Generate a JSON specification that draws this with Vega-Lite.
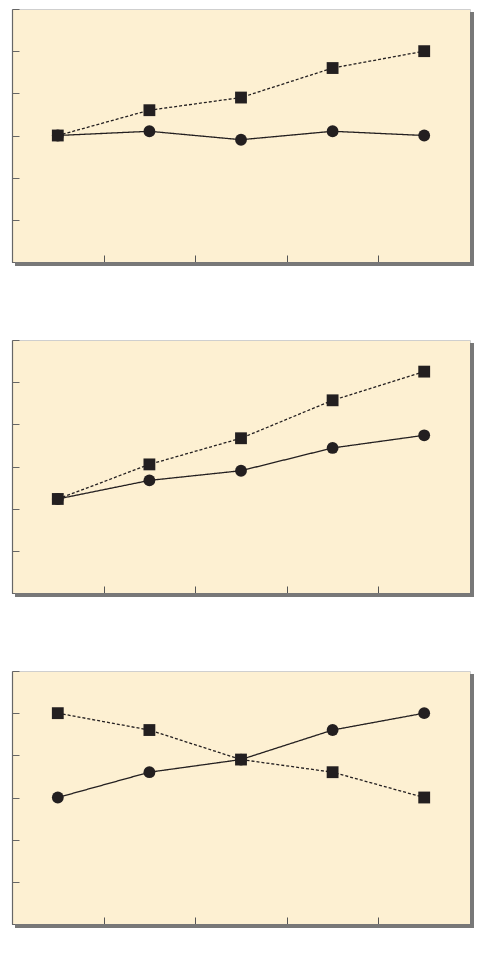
{
  "$schema": "https://vega.github.io/schema/vega-lite/v6.json",
  "padding": {"left": 11, "top": 8, "right": 4, "bottom": 4},
  "autosize": {"type": "pad"},
  "background": "white",
  "spacing": 72,
  "config": {
    "view": {"fill": "#fdf0d2", "stroke": "#cfcfcf", "strokeWidth": 1},
    "axis": {"labels": false, "title": null, "tickSize": -7, "tickWidth": 1, "domainWidth": 1.2}
  },
  "data": {
    "values": [
      {"panel": 1, "x": 0.5, "y": 3, "series": "circle"},
      {"panel": 1, "x": 1.5, "y": 3.1, "series": "circle"},
      {"panel": 1, "x": 2.5, "y": 2.9, "series": "circle"},
      {"panel": 1, "x": 3.5, "y": 3.1, "series": "circle"},
      {"panel": 1, "x": 4.5, "y": 3, "series": "circle"},
      {"panel": 1, "x": 0.5, "y": 3, "series": "square"},
      {"panel": 1, "x": 1.5, "y": 3.6, "series": "square"},
      {"panel": 1, "x": 2.5, "y": 3.9, "series": "square"},
      {"panel": 1, "x": 3.5, "y": 4.6, "series": "square"},
      {"panel": 1, "x": 4.5, "y": 5, "series": "square"},
      {"panel": 2, "x": 0.5, "y": 2.23, "series": "circle"},
      {"panel": 2, "x": 1.5, "y": 2.67, "series": "circle"},
      {"panel": 2, "x": 2.5, "y": 2.9, "series": "circle"},
      {"panel": 2, "x": 3.5, "y": 3.44, "series": "circle"},
      {"panel": 2, "x": 4.5, "y": 3.74, "series": "circle"},
      {"panel": 2, "x": 0.5, "y": 2.23, "series": "square"},
      {"panel": 2, "x": 1.5, "y": 3.05, "series": "square"},
      {"panel": 2, "x": 2.5, "y": 3.67, "series": "square"},
      {"panel": 2, "x": 3.5, "y": 4.57, "series": "square"},
      {"panel": 2, "x": 4.5, "y": 5.25, "series": "square"},
      {"panel": 3, "x": 0.5, "y": 3, "series": "circle"},
      {"panel": 3, "x": 1.5, "y": 3.6, "series": "circle"},
      {"panel": 3, "x": 2.5, "y": 3.9, "series": "circle"},
      {"panel": 3, "x": 3.5, "y": 4.6, "series": "circle"},
      {"panel": 3, "x": 4.5, "y": 5, "series": "circle"},
      {"panel": 3, "x": 0.5, "y": 5, "series": "square"},
      {"panel": 3, "x": 1.5, "y": 4.6, "series": "square"},
      {"panel": 3, "x": 2.5, "y": 3.9, "series": "square"},
      {"panel": 3, "x": 3.5, "y": 3.6, "series": "square"},
      {"panel": 3, "x": 4.5, "y": 3, "series": "square"}
    ]
  },
  "vconcat": [
    {
      "width": 458,
      "height": 253,
      "transform": [{"filter": "datum.panel == 1"}],
      "layer": [
        {
          "mark": {"type": "rect", "color": "#777777", "opacity": 0.5, "x2Offset": 4, "yOffset": 3, "y2Offset": 4},
          "encoding": {"x": {"datum": 5, "type": "quantitative", "scale": {"domain": [0, 5], "nice": false, "zero": false}}, "x2": {"datum": 5}, "y": {"datum": 6, "type": "quantitative", "scale": {"domain": [0, 6], "nice": false}}, "y2": {"datum": 0}}
        },
        {
          "mark": {"type": "rect", "color": "#777777", "opacity": 0.5, "xOffset": 3, "x2Offset": 0, "y2Offset": 4},
          "encoding": {"x": {"datum": 0, "type": "quantitative"}, "x2": {"datum": 5}, "y": {"datum": 0, "type": "quantitative"}, "y2": {"datum": 0}}
        },
        {
          "mark": {"type": "line", "color": "#231f20", "strokeWidth": 1.3},
          "encoding": {
            "x": {"field": "x", "type": "quantitative", "scale": {"domain": [0, 5], "nice": false, "zero": false},
              "axis": {"values": [0, 1, 2, 3, 4, 5], "grid": false, "domainColor": "#444", "tickColor": "#555"}},
            "y": {"field": "y", "type": "quantitative", "scale": {"domain": [0, 6], "nice": false},
              "axis": {"values": [0, 1, 2, 3, 4, 5, 6], "gridColor": "#cbc3b3", "gridWidth": 1.2, "domainColor": "#666", "tickColor": "#666"}},
            "detail": {"field": "series"},
            "strokeDash": {"field": "series", "type": "nominal", "legend": null,
              "scale": {"domain": ["circle", "square"], "range": [[1, 0], [3, 2]]}}
          }
        },
        {
          "mark": {"type": "point", "filled": true, "opacity": 1, "color": "#231f20", "size": 140},
          "encoding": {
            "x": {"field": "x", "type": "quantitative"},
            "y": {"field": "y", "type": "quantitative"},
            "shape": {"field": "series", "type": "nominal", "legend": null,
              "scale": {"domain": ["circle", "square"], "range": ["circle", "square"]}}
          }
        }
      ]
    },
    {
      "width": 458,
      "height": 253,
      "transform": [{"filter": "datum.panel == 2"}],
      "layer": [
        {
          "mark": {"type": "rect", "color": "#777777", "opacity": 0.5, "x2Offset": 4, "yOffset": 3, "y2Offset": 4},
          "encoding": {"x": {"datum": 5, "type": "quantitative", "scale": {"domain": [0, 5], "nice": false, "zero": false}}, "x2": {"datum": 5}, "y": {"datum": 6, "type": "quantitative", "scale": {"domain": [0, 6], "nice": false}}, "y2": {"datum": 0}}
        },
        {
          "mark": {"type": "rect", "color": "#777777", "opacity": 0.5, "xOffset": 3, "x2Offset": 0, "y2Offset": 4},
          "encoding": {"x": {"datum": 0, "type": "quantitative"}, "x2": {"datum": 5}, "y": {"datum": 0, "type": "quantitative"}, "y2": {"datum": 0}}
        },
        {
          "mark": {"type": "line", "color": "#231f20", "strokeWidth": 1.3},
          "encoding": {
            "x": {"field": "x", "type": "quantitative", "scale": {"domain": [0, 5], "nice": false, "zero": false},
              "axis": {"values": [0, 1, 2, 3, 4, 5], "grid": false, "domainColor": "#444", "tickColor": "#555"}},
            "y": {"field": "y", "type": "quantitative", "scale": {"domain": [0, 6], "nice": false},
              "axis": {"values": [0, 1, 2, 3, 4, 5, 6], "gridColor": "#cbc3b3", "gridWidth": 1.2, "domainColor": "#666", "tickColor": "#666"}},
            "detail": {"field": "series"},
            "strokeDash": {"field": "series", "type": "nominal", "legend": null,
              "scale": {"domain": ["circle", "square"], "range": [[1, 0], [3, 2]]}}
          }
        },
        {
          "mark": {"type": "point", "filled": true, "opacity": 1, "color": "#231f20", "size": 140},
          "encoding": {
            "x": {"field": "x", "type": "quantitative"},
            "y": {"field": "y", "type": "quantitative"},
            "shape": {"field": "series", "type": "nominal", "legend": null,
              "scale": {"domain": ["circle", "square"], "range": ["circle", "square"]}}
          }
        }
      ]
    },
    {
      "width": 458,
      "height": 253,
      "transform": [{"filter": "datum.panel == 3"}],
      "layer": [
        {
          "mark": {"type": "rect", "color": "#777777", "opacity": 0.5, "x2Offset": 4, "yOffset": 3, "y2Offset": 4},
          "encoding": {"x": {"datum": 5, "type": "quantitative", "scale": {"domain": [0, 5], "nice": false, "zero": false}}, "x2": {"datum": 5}, "y": {"datum": 6, "type": "quantitative", "scale": {"domain": [0, 6], "nice": false}}, "y2": {"datum": 0}}
        },
        {
          "mark": {"type": "rect", "color": "#777777", "opacity": 0.5, "xOffset": 3, "x2Offset": 0, "y2Offset": 4},
          "encoding": {"x": {"datum": 0, "type": "quantitative"}, "x2": {"datum": 5}, "y": {"datum": 0, "type": "quantitative"}, "y2": {"datum": 0}}
        },
        {
          "mark": {"type": "line", "color": "#231f20", "strokeWidth": 1.3},
          "encoding": {
            "x": {"field": "x", "type": "quantitative", "scale": {"domain": [0, 5], "nice": false, "zero": false},
              "axis": {"values": [0, 1, 2, 3, 4, 5], "grid": false, "domainColor": "#444", "tickColor": "#555"}},
            "y": {"field": "y", "type": "quantitative", "scale": {"domain": [0, 6], "nice": false},
              "axis": {"values": [0, 1, 2, 3, 4, 5, 6], "gridColor": "#cbc3b3", "gridWidth": 1.2, "domainColor": "#666", "tickColor": "#666"}},
            "detail": {"field": "series"},
            "strokeDash": {"field": "series", "type": "nominal", "legend": null,
              "scale": {"domain": ["circle", "square"], "range": [[1, 0], [3, 2]]}}
          }
        },
        {
          "mark": {"type": "point", "filled": true, "opacity": 1, "color": "#231f20", "size": 140},
          "encoding": {
            "x": {"field": "x", "type": "quantitative"},
            "y": {"field": "y", "type": "quantitative"},
            "shape": {"field": "series", "type": "nominal", "legend": null,
              "scale": {"domain": ["circle", "square"], "range": ["circle", "square"]}}
          }
        }
      ]
    }
  ]
}
